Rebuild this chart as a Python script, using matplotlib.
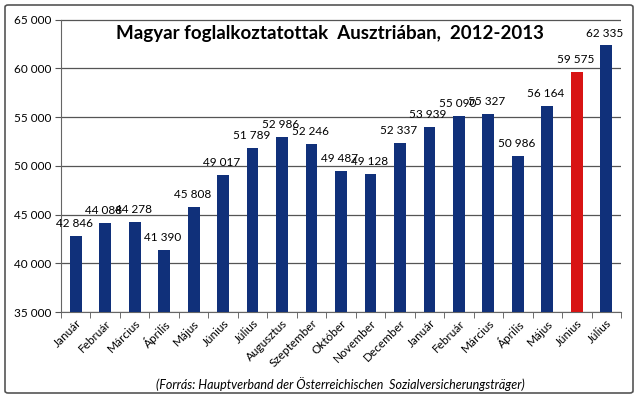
import matplotlib
matplotlib.use("Agg")
import matplotlib.pyplot as plt
from matplotlib.patches import FancyBboxPatch
import numpy as np

months = ["Január", "Február", "Március", "Április", "Május", "Június", "Július",
          "Augusztus", "Szeptember", "Október", "November", "December",
          "Január", "Február", "Március", "Április", "Május", "Június", "Július"]
values = [42846, 44088, 44278, 41390, 45808, 49017, 51789, 52986, 52246, 49487,
          49128, 52337, 53939, 55090, 55327, 50986, 56164, 59575, 62335]
highlight = 17
title = "Magyar foglalkoztatottak  Ausztriában,  2012-2013"
source = "(Forrás: Hauptverband der Österreichischen  Sozialversicherungsträger)"

plt.rcParams['font.family'] = ['Lato', 'DejaVu Sans']

fig = plt.figure(figsize=(6.38, 3.98), dpi=100)
ax = fig.add_axes([61/638, 1-312/398, (621-61)/638, (312-19.5)/398])

x = np.arange(len(values))
colors = ["#D81414" if i == highlight else "#10307A" for i in range(len(values))]
ax.bar(x, values, width=0.4, color=colors, zorder=3)

ax.set_ylim(35000, 65000)
ax.set_xlim(-0.5, len(values) - 0.5)
yt = np.arange(35000, 65001, 5000)
ax.set_yticks(yt)
ax.set_yticklabels([f"{v:,}".replace(",", " ") for v in yt], fontsize=8.5)
ax.yaxis.grid(True, color="#555555", linewidth=0.9, zorder=0)
ax.set_axisbelow(True)

ax.set_xticks(x)
ax.set_xticklabels(months, rotation=45, ha="right", rotation_mode="anchor", fontsize=8.5)
ax.tick_params(axis="x", length=0, pad=4)
ax.set_xticks(np.arange(-0.5, len(values), 1), minor=True)
ax.tick_params(axis="x", which="minor", length=4, color="#555555")
ax.tick_params(axis="y", length=4, color="#555555", pad=3)

for s in ["top", "right"]:
    ax.spines[s].set_visible(False)
for s in ["left", "bottom"]:
    ax.spines[s].set_color("#666666")

for xi, v in zip(x, values):
    ax.annotate(f"{v:,}".replace(",", " "), (xi, v), xytext=(-1, 5),
                textcoords="offset points", ha="center", va="bottom", fontsize=8.5)

fig.text(330/638, 1-33/398, title, ha="center", va="center", fontsize=13.5, fontweight="bold")
fig.text(340/638, 1-384/398, source, ha="center", va="center", fontsize=9, style="italic")

border = FancyBboxPatch((5/638, 5/398), 628/638, 388/398, boxstyle="round,pad=0,rounding_size=0.005",
                        transform=fig.transFigure, fill=False, edgecolor="#555555", linewidth=1.2)
fig.patches.append(border)

fig.savefig("out.png", dpi=100)
